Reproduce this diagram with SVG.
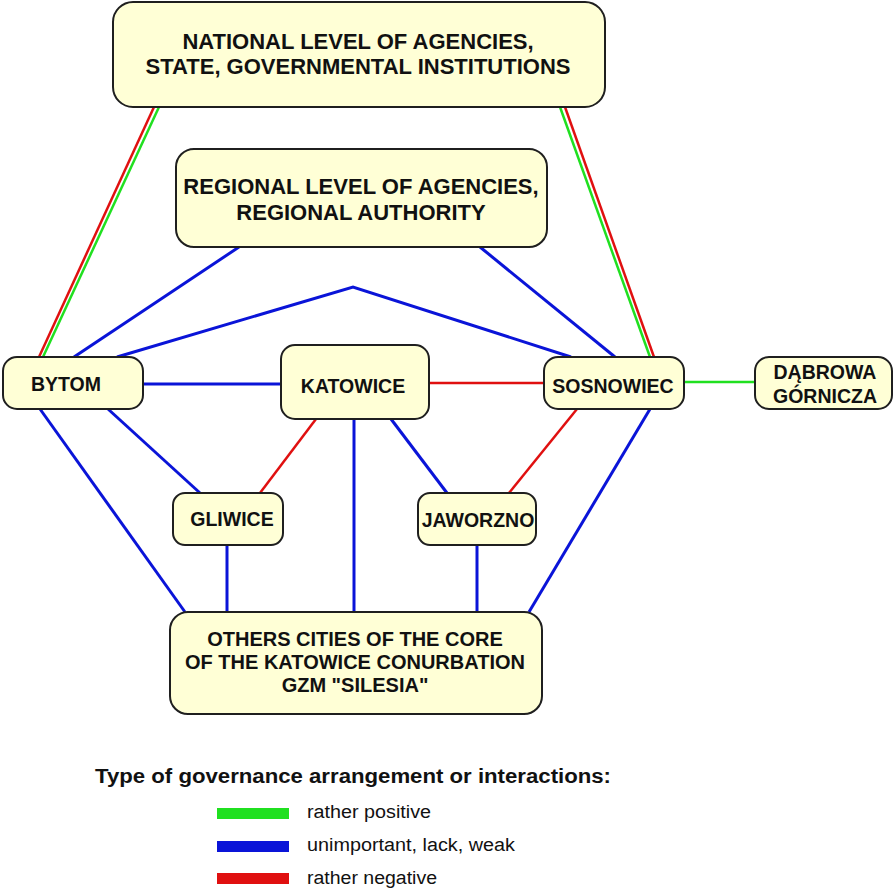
<svg xmlns="http://www.w3.org/2000/svg" width="893" height="891" viewBox="0 0 893 891">
  <style>
    .box { fill: #FFFFD6; stroke: #1f1f1f; stroke-width: 2; }
    .lbl { font-family: "Liberation Sans", Arial, sans-serif; font-weight: bold; fill: #111; text-anchor: middle; }
    .weak { stroke: #0a14d8; stroke-width: 3; fill: none; }
    .neg { stroke: #e01010; stroke-width: 2.5; fill: none; }
    .pos { stroke: #20e020; stroke-width: 2.5; fill: none; }
    .legend { font-family: "Liberation Sans", Arial, sans-serif; fill: #111; }
  </style>
  <rect width="893" height="891" fill="#ffffff"/>

  <!-- connectors -->
  <g id="connectors">
    <!-- national level links (double line) -->
    <line class="neg" x1="154" y1="107" x2="39" y2="357"/>
    <line class="pos" x1="159" y1="107" x2="43" y2="357"/>
    <line class="pos" x1="560" y1="107" x2="650" y2="357"/>
    <line class="neg" x1="565" y1="107" x2="654" y2="357"/>
    <!-- regional level links -->
    <line class="weak" x1="239" y1="247" x2="74" y2="357"/>
    <line class="weak" x1="480" y1="247" x2="615" y2="357"/>
    <polyline class="weak" points="117,357 353,287 571,357"/>
    <!-- city links -->
    <line class="weak" x1="143" y1="384" x2="281" y2="384"/>
    <line class="neg" x1="429" y1="383" x2="544" y2="383"/>
    <line class="pos" x1="684" y1="382" x2="755" y2="382"/>
    <line class="weak" x1="108" y1="409" x2="200" y2="493"/>
    <line class="neg" x1="316" y1="419" x2="260" y2="493"/>
    <line class="weak" x1="354" y1="419" x2="354" y2="612"/>
    <line class="weak" x1="391" y1="419" x2="447" y2="493"/>
    <line class="neg" x1="577" y1="409" x2="509" y2="493"/>
    <line class="weak" x1="40" y1="409" x2="185" y2="612"/>
    <line class="weak" x1="650" y1="409" x2="529" y2="612"/>
    <line class="weak" x1="227" y1="545" x2="227" y2="612"/>
    <line class="weak" x1="477" y1="545" x2="477" y2="612"/>
  </g>

  <!-- nodes -->
  <g id="national">
    <rect class="box" x="113" y="2" width="492" height="105" rx="20"/>
    <text class="lbl" font-size="22" x="358" y="49">NATIONAL LEVEL OF AGENCIES,</text>
    <text class="lbl" font-size="22" x="358" y="74">STATE, GOVERNMENTAL INSTITUTIONS</text>
  </g>
  <g id="regional">
    <rect class="box" x="176" y="149" width="371" height="98" rx="18"/>
    <text class="lbl" font-size="22" x="361" y="194">REGIONAL LEVEL OF AGENCIES,</text>
    <text class="lbl" font-size="22" x="361" y="220">REGIONAL AUTHORITY</text>
  </g>
  <g id="bytom">
    <rect class="box" x="3" y="357" width="140" height="52" rx="14"/>
    <text class="lbl" font-size="19.5" x="66" y="391">BYTOM</text>
  </g>
  <g id="katowice">
    <rect class="box" x="281" y="345" width="148" height="74" rx="14"/>
    <text class="lbl" font-size="19.5" x="353" y="393">KATOWICE</text>
  </g>
  <g id="sosnowiec">
    <rect class="box" x="544" y="357" width="140" height="52" rx="14"/>
    <text class="lbl" font-size="19.5" x="613" y="393">SOSNOWIEC</text>
  </g>
  <g id="dabrowa">
    <rect class="box" x="755" y="357" width="137" height="52" rx="14"/>
    <text class="lbl" font-size="19.5" x="825" y="379">DĄBROWA</text>
    <text class="lbl" font-size="19.5" x="825" y="403">GÓRNICZA</text>
  </g>
  <g id="gliwice">
    <rect class="box" x="173" y="493" width="110" height="52" rx="12"/>
    <text class="lbl" font-size="19.5" x="232" y="526">GLIWICE</text>
  </g>
  <g id="jaworzno">
    <rect class="box" x="418" y="493" width="118" height="52" rx="12"/>
    <text class="lbl" font-size="19.5" x="478" y="527">JAWORZNO</text>
  </g>
  <g id="others">
    <rect class="box" x="170" y="612" width="372" height="102" rx="18"/>
    <text class="lbl" font-size="20" x="355" y="646">OTHERS CITIES OF THE CORE</text>
    <text class="lbl" font-size="20" x="355" y="669">OF THE KATOWICE CONURBATION</text>
    <text class="lbl" font-size="20" x="355" y="692">GZM "SILESIA"</text>
  </g>

  <!-- legend -->
  <g id="legend">
    <text class="legend" font-weight="bold" font-size="20" x="95" y="783" textLength="516" lengthAdjust="spacingAndGlyphs">Type of governance arrangement or interactions:</text>
    <rect x="217" y="808" width="72" height="11" fill="#20e020"/>
    <rect x="217" y="841" width="72" height="11" fill="#0a14d8"/>
    <rect x="217" y="873" width="72" height="11" fill="#e01010"/>
    <text class="legend" font-size="18" x="307" y="818" textLength="124" lengthAdjust="spacingAndGlyphs">rather positive</text>
    <text class="legend" font-size="18" x="307" y="851" textLength="208" lengthAdjust="spacingAndGlyphs">unimportant, lack, weak</text>
    <text class="legend" font-size="18" x="307" y="884" textLength="130" lengthAdjust="spacingAndGlyphs">rather negative</text>
  </g>
</svg>
